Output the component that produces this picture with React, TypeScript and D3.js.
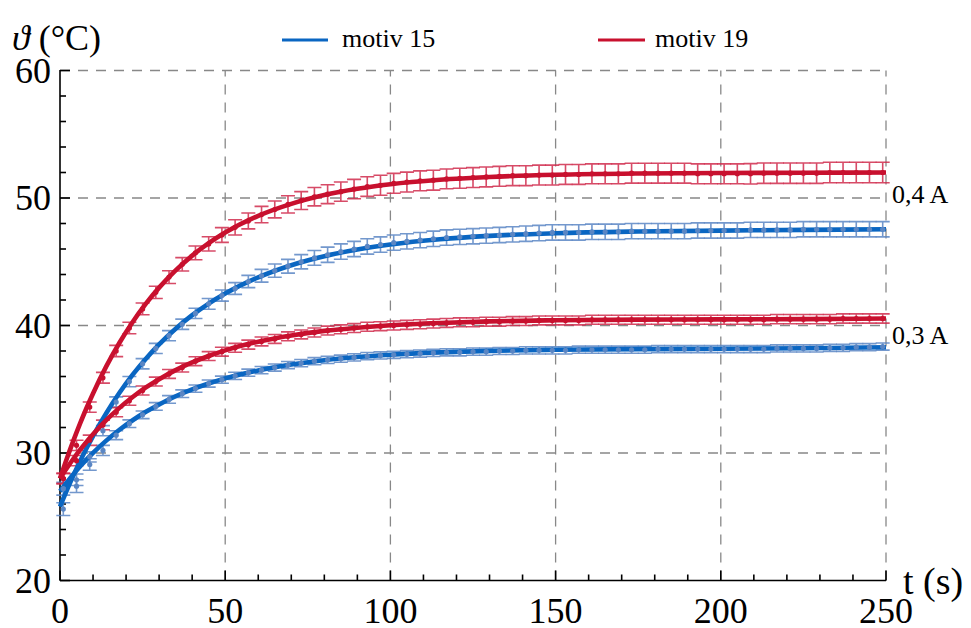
import React from 'react';
import * as d3 from 'd3';

// ---- data ----
const tData = [
  1, 5, 9, 13, 17, 21, 25, 29, 33, 37,
  41, 45, 49, 53, 57, 61, 65, 69, 73, 77,
  81, 85, 89, 93, 97, 101, 105, 109, 113, 117,
  121, 125, 129, 133, 137, 141, 145, 149, 153, 157,
  161, 165, 169, 173, 177, 181, 185, 189, 193, 197,
  201, 205, 209, 213, 217, 221, 225, 229, 233, 237,
  241, 245, 249,
];

const r4Data = [
  28.0, 30.6, 33.6, 35.9, 38.0, 39.8, 41.3, 42.6, 43.8, 44.8,
  45.7, 46.4, 47.1, 47.7, 48.2, 48.7, 49.1, 49.5, 49.8, 50.1,
  50.3, 50.5, 50.7, 50.9, 51.0, 51.15, 51.25, 51.35, 51.4, 51.5,
  51.55, 51.6, 51.65, 51.7, 51.75, 51.75, 51.8, 51.8, 51.85, 51.85,
  51.9, 51.9, 51.9, 51.95, 51.95, 51.95, 51.95, 51.95, 51.9, 51.9,
  51.9, 51.9, 51.9, 51.95, 51.95, 51.95, 51.95, 51.95, 52.0, 52.0,
  52.0, 52.0, 52.0,
];
const r4Err = [
  0.4, 0.4, 0.4, 0.42, 0.44, 0.45, 0.46, 0.48, 0.5, 0.52,
  0.54, 0.56, 0.58, 0.6, 0.62, 0.64, 0.66, 0.68, 0.7, 0.72,
  0.74, 0.75, 0.76, 0.77, 0.78, 0.78, 0.78, 0.78, 0.78, 0.78,
  0.78, 0.78, 0.78, 0.78, 0.78, 0.78, 0.78, 0.78, 0.78, 0.78,
  0.78, 0.78, 0.78, 0.78, 0.78, 0.78, 0.78, 0.78, 0.78, 0.78,
  0.78, 0.78, 0.8, 0.8, 0.8, 0.8, 0.8, 0.8, 0.8, 0.8,
  0.8, 0.8, 0.8,
];

const r3Data = [
  28.0, 29.4, 31.0, 32.2, 33.2, 34.1, 34.9, 35.6, 36.2, 36.7,
  37.2, 37.6, 37.95, 38.25, 38.5, 38.75, 38.95, 39.15, 39.3, 39.45,
  39.6, 39.7, 39.8, 39.9, 39.95, 40.0, 40.05, 40.1, 40.15, 40.2,
  40.25, 40.25, 40.3, 40.3, 40.35, 40.35, 40.4, 40.4, 40.4, 40.4,
  40.45, 40.45, 40.45, 40.45, 40.45, 40.45, 40.45, 40.45, 40.45, 40.45,
  40.45, 40.45, 40.45, 40.45, 40.5, 40.5, 40.5, 40.5, 40.5, 40.55,
  40.55, 40.55, 40.55,
];
const r3Err = [
  0.4, 0.4, 0.4, 0.38, 0.36, 0.35, 0.35, 0.35, 0.35, 0.35,
  0.35, 0.35, 0.35, 0.35, 0.35, 0.35, 0.35, 0.35, 0.35, 0.35,
  0.35, 0.35, 0.35, 0.35, 0.35, 0.35, 0.35, 0.35, 0.35, 0.35,
  0.35, 0.35, 0.35, 0.35, 0.35, 0.35, 0.35, 0.35, 0.35, 0.35,
  0.35, 0.35, 0.35, 0.35, 0.35, 0.35, 0.35, 0.35, 0.35, 0.35,
  0.35, 0.35, 0.35, 0.35, 0.36, 0.36, 0.36, 0.36, 0.36, 0.36,
  0.36, 0.36, 0.36,
];

const b4Data = [
  25.6, 27.9, 29.7, 31.75, 34.0, 35.6, 37.0, 38.2, 39.2, 40.1,
  40.95, 41.7, 42.35, 42.9, 43.45, 43.9, 44.3, 44.65, 45.0, 45.3,
  45.55, 45.8, 46.0, 46.2, 46.35, 46.5, 46.6, 46.7, 46.8, 46.9,
  46.95, 47.0, 47.05, 47.1, 47.15, 47.2, 47.25, 47.3, 47.3, 47.3,
  47.35, 47.35, 47.35, 47.4, 47.4, 47.4, 47.4, 47.4, 47.45, 47.45,
  47.45, 47.45, 47.5, 47.5, 47.5, 47.5, 47.55, 47.55, 47.55, 47.55,
  47.55, 47.55, 47.55,
];
const b4Err = [
  0.5, 0.45, 0.4, 0.4, 0.4, 0.4, 0.4, 0.4, 0.4, 0.4,
  0.4, 0.42, 0.44, 0.46, 0.48, 0.5, 0.52, 0.54, 0.56, 0.58,
  0.6, 0.6, 0.6, 0.6, 0.6, 0.6, 0.6, 0.6, 0.6, 0.6,
  0.6, 0.6, 0.6, 0.6, 0.6, 0.6, 0.6, 0.6, 0.6, 0.6,
  0.6, 0.6, 0.6, 0.6, 0.6, 0.6, 0.6, 0.6, 0.6, 0.6,
  0.6, 0.6, 0.6, 0.6, 0.6, 0.6, 0.6, 0.6, 0.6, 0.6,
  0.6, 0.6, 0.6,
];

const b3Data = [
  27.2, 27.4, 29.1, 30.2, 31.4, 32.3, 33.0, 33.65, 34.2, 34.65,
  35.05, 35.45, 35.75, 36.05, 36.3, 36.5, 36.7, 36.9, 37.05, 37.2,
  37.3, 37.4, 37.5, 37.6, 37.65, 37.7, 37.75, 37.8, 37.85, 37.9,
  37.9, 37.95, 37.95, 38.0, 38.0, 38.05, 38.05, 38.05, 38.05, 38.1,
  38.1, 38.1, 38.1, 38.1, 38.1, 38.15, 38.15, 38.15, 38.15, 38.15,
  38.15, 38.15, 38.15, 38.15, 38.2, 38.2, 38.2, 38.2, 38.25, 38.25,
  38.3, 38.3, 38.35,
];
const b3Err = [
  0.5, 0.5, 0.45, 0.4, 0.35, 0.3, 0.3, 0.3, 0.3, 0.3,
  0.28, 0.28, 0.28, 0.28, 0.28, 0.28, 0.28, 0.28, 0.28, 0.28,
  0.28, 0.28, 0.28, 0.28, 0.28, 0.28, 0.28, 0.28, 0.28, 0.28,
  0.28, 0.28, 0.28, 0.28, 0.28, 0.28, 0.28, 0.28, 0.28, 0.28,
  0.28, 0.28, 0.28, 0.28, 0.28, 0.28, 0.28, 0.28, 0.28, 0.28,
  0.28, 0.28, 0.28, 0.28, 0.28, 0.28, 0.28, 0.28, 0.28, 0.28,
  0.28, 0.28, 0.28,
];

const tFit = [0, 2, 4, 6, 8, 10, 14, 18, 22, 26, 30, 35, 40, 45, 50, 60, 70, 80, 90, 100, 115, 130, 150, 175, 200, 225, 250];
const r4Fit = [28.0, 29.51, 30.93, 32.26, 33.51, 34.67, 36.79, 38.65, 40.28, 41.71, 42.97, 44.32, 45.48, 46.46, 47.29, 48.6, 49.54, 50.23, 50.72, 51.08, 51.43, 51.65, 51.82, 51.92, 51.96, 51.98, 52.0];
const r3Fit = [28.0, 28.79, 29.53, 30.22, 30.87, 31.47, 32.58, 33.54, 34.39, 35.14, 35.79, 36.5, 37.1, 37.61, 38.05, 38.73, 39.22, 39.58, 39.83, 40.02, 40.2, 40.32, 40.41, 40.46, 40.48, 40.5, 40.55];
const b4Fit = [25.8, 27.04, 28.21, 29.31, 30.35, 31.33, 33.12, 34.72, 36.14, 37.4, 38.52, 39.75, 40.81, 41.72, 42.51, 43.78, 44.73, 45.44, 45.96, 46.35, 46.76, 47.03, 47.24, 47.37, 47.44, 47.5, 47.55];
const b3Fit = [27.0, 27.68, 28.32, 28.92, 29.48, 30.01, 30.97, 31.82, 32.57, 33.23, 33.81, 34.45, 34.99, 35.45, 35.85, 36.48, 36.94, 37.28, 37.53, 37.71, 37.89, 38.01, 38.1, 38.15, 38.18, 38.22, 38.3];

const xTicks = [0, 50, 100, 150, 200, 250];
const yTicks = [20, 30, 40, 50, 60];
const xMinor = [10, 20, 30, 40, 60, 70, 80, 90, 110, 120, 130, 140, 160, 170, 180, 190, 210, 220, 230, 240];
const yMinor = [22, 24, 26, 28, 32, 34, 36, 38, 42, 44, 46, 48, 52, 54, 56, 58];

const legendNames = ['motiv 15', 'motiv 19'];
const currentLabels = ['0,4 A', '0,3 A'];
const currentLabelY = [50.24, 39.2];

// ---- styles ----
const BLUE = '#0a66c2';
const BLUE_LIGHT = '#5a86c4';
const RED = '#c8102e';
const RED_LIGHT = '#d02c4c';
const FONT = "'Liberation Serif', 'DejaVu Serif', serif";

const W = 971;
const H = 628;
const x = d3.scaleLinear().domain([0, 250]).range([60, 886]);
const y = d3.scaleLinear().domain([20, 60]).range([580.5, 70.5]);

const series = [
  { data: b3Data, err: b3Err, fit: b3Fit, color: BLUE, light: BLUE_LIGHT, dot: BLUE_LIGHT },
  { data: b4Data, err: b4Err, fit: b4Fit, color: BLUE, light: BLUE_LIGHT, dot: BLUE_LIGHT },
  { data: r3Data, err: r3Err, fit: r3Fit, color: RED, light: RED_LIGHT, dot: RED },
  { data: r4Data, err: r4Err, fit: r4Fit, color: RED, light: RED_LIGHT, dot: RED },
];

const line = d3
  .line<number>()
  .x((_, i) => x(tFit[i]))
  .y((d) => y(d))
  .curve(d3.curveMonotoneX);

export default function App() {
  const cap = 7;
  return (
    <svg
      width={W}
      height={H}
      style={{ position: 'absolute', left: 0, top: 0, background: '#fff' }}
      fontFamily={FONT}
    >
      {/* grid */}
      <g stroke="#888" strokeWidth={1.3} strokeDasharray="10,8" fill="none">
        {xTicks.slice(1).map((t) => (
          <line key={'gx' + t} x1={x(t)} x2={x(t)} y1={y(20)} y2={y(60)} />
        ))}
        {yTicks.slice(1).map((v) => (
          <line key={'gy' + v} x1={x(0)} x2={x(250)} y1={y(v)} y2={y(v)} />
        ))}
      </g>

      {/* axes */}
      <g stroke="#000" strokeWidth={1.6}>
        <line x1={x(0)} x2={x(0)} y1={y(60) - 0.5} y2={y(20)} />
        <line x1={x(0)} x2={x(250)} y1={y(20)} y2={y(20)} />
        {xTicks.map((t) => (
          <line key={'xt' + t} x1={x(t)} x2={x(t)} y1={y(20)} y2={y(20) - 10} />
        ))}
        {xMinor.map((t) => (
          <line key={'xm' + t} x1={x(t)} x2={x(t)} y1={y(20)} y2={y(20) - 6} />
        ))}
        {yTicks.map((v) => (
          <line key={'yt' + v} x1={x(0)} x2={x(0) + 10} y1={y(v)} y2={y(v)} />
        ))}
        {yMinor.map((v) => (
          <line key={'ym' + v} x1={x(0)} x2={x(0) + 6} y1={y(v)} y2={y(v)} />
        ))}
      </g>

      {/* tick labels */}
      <g fontSize={36} fill="#000">
        {xTicks.map((t) => (
          <text key={'xl' + t} x={x(t)} y={623} textAnchor="middle">
            {t}
          </text>
        ))}
        {yTicks.map((v) => (
          <text key={'yl' + v} x={51} y={y(v) + 12} textAnchor="end">
            {v}
          </text>
        ))}
      </g>

      {/* axis titles */}
      <text x={12} y={50} fontSize={36} fill="#000">
        <tspan fontStyle="italic">ϑ</tspan>
        <tspan> (°C)</tspan>
      </text>
      <text x={903} y={594} fontSize={38} fill="#000">
        t (s)
      </text>

      {/* error bars */}
      {series.map((s, si) => (
        <g key={'eb' + si} stroke={s.light} strokeWidth={1.6} strokeOpacity={0.85} fill="none">
          {s.data.map((v, i) => {
            const cx = x(tData[i]);
            const y1 = y(v + s.err[i]);
            const y2 = y(v - s.err[i]);
            return (
              <path
                key={i}
                d={`M${cx},${y1}V${y2}M${cx - cap},${y1}H${cx + cap}M${cx - cap},${y2}H${cx + cap}`}
              />
            );
          })}
        </g>
      ))}

      {/* fit lines */}
      {series.map((s, si) => (
        <path key={'fit' + si} d={line(s.fit) || ''} stroke={s.color} strokeWidth={4.6} fill="none" />
      ))}

      {/* points */}
      {series.map((s, si) => (
        <g key={'pt' + si} fill={s.dot}>
          {s.data.map((v, i) => (
            <circle key={i} cx={x(tData[i])} cy={y(v)} r={2.6} />
          ))}
        </g>
      ))}

      {/* current labels */}
      {currentLabels.map((l, i) => (
        <text key={l} x={892} y={y(currentLabelY[i]) + 8} fontSize={26} fill="#000">
          {l}
        </text>
      ))}

      {/* legend */}
      <line x1={282} x2={328} y1={40} y2={40} stroke={BLUE} strokeWidth={3.2} />
      <text x={342} y={47} fontSize={26} fill="#000">
        {legendNames[0]}
      </text>
      <line x1={598} x2={645} y1={40} y2={40} stroke={RED} strokeWidth={3.2} />
      <text x={655} y={47} fontSize={26} fill="#000">
        {legendNames[1]}
      </text>
    </svg>
  );
}
